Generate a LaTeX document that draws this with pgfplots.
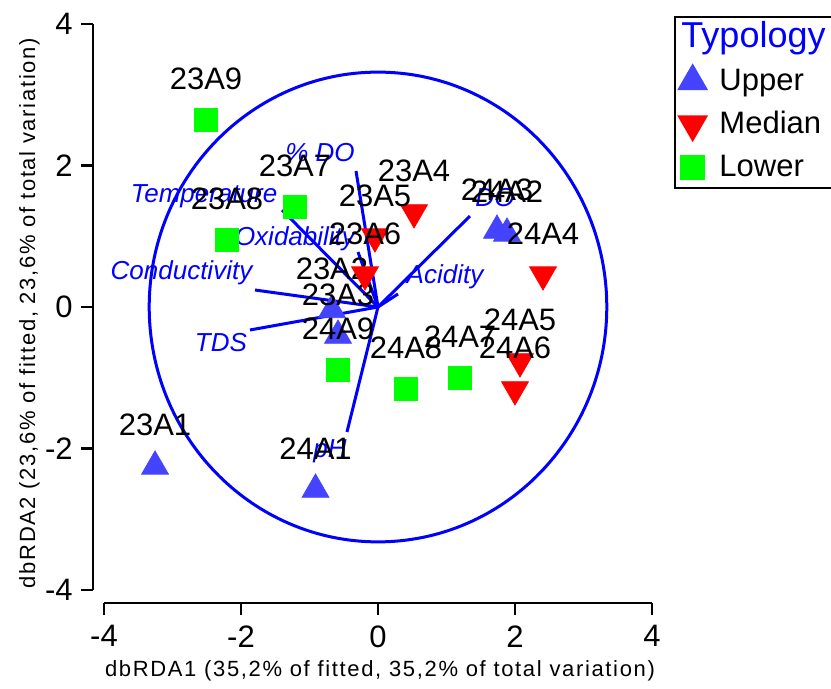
\documentclass[border=0pt]{standalone}
\usepackage{fontspec}
\setmainfont{Liberation Sans}
\usepackage{pgfplots}
\pgfplotsset{compat=1.18}
\definecolor{upc}{RGB}{68,68,255}
\definecolor{medc}{RGB}{255,0,0}
\definecolor{lowc}{RGB}{0,255,0}
\definecolor{vecc}{RGB}{0,0,255}
\newcommand{\ticksize}{\fontsize{15.5}{18}\selectfont}
\newcommand{\labsize}{\fontsize{11}{13}\selectfont\addfontfeatures{LetterSpace=7.5}}
\newcommand{\vecfont}{\fontsize{13}{15}\selectfont\itshape}
\begin{document}
\begin{tikzpicture}
\begin{axis}[
  scale only axis, width=274pt, height=283pt,
  xmin=-4, xmax=4, ymin=-4, ymax=4,
  xtick={-4,-2,0,2,4}, ytick={-4,-2,0,2,4},
  axis x line*=bottom, axis y line*=left,
  axis x line shift=6.5pt, axis y line shift=5.5pt,
  axis line style={line width=1.1pt, -},
  tick style={line width=1.1pt, black},
  major tick length=6pt, tick align=outside,
  /pgf/number format/assume math mode=true,
  ticklabel style={font=\ticksize},
  xticklabel style={inner ysep=5pt},
  yticklabel style={inner xsep=4pt},
  xlabel={dbRDA1 (35,2\% of fitted, 35,2\% of total variation)},
  ylabel={dbRDA2 (23,6\% of fitted, 23,6\% of total variation)},
  xlabel style={at={(axis description cs:0.5036,-0.1537)}, anchor=base, font=\labsize},
  ylabel style={at={(axis description cs:-0.1259,0.4890)}, anchor=base, font=\labsize},
  clip=false,
  legend style={at={(axis description cs:1.0402,1.0141)}, anchor=north west, draw=black, line width=1.2pt, font=\ticksize, inner xsep=2pt, inner ysep=2pt, row sep=4.5pt, nodes={inner ysep=0pt, inner xsep=6.7pt, text height=13pt, text depth=4pt}},
  legend image post style={xshift=-3pt},
  legend cell align=left,
  nodes near coords,
  point meta=explicit symbolic,
  every node near coord/.append style={anchor=base, yshift=15.25pt, font=\ticksize, text=black, inner sep=0pt},
]
\coordinate (LL) at (axis cs:-4,-4);
\addlegendimage{empty legend}
\addlegendentry{\hspace*{-19pt}\fontsize{18}{20}\selectfont\textcolor{vecc}{Typology}}

% reference circle and vectors
\draw[vecc, line width=1.5pt] (axis cs:0,0) ellipse [x radius=3.34, y radius=3.32];
\addplot[vecc, line width=1.5pt, forget plot, nodes near coords=] coordinates {(0,0) (-1.401,1.371)};
\addplot[vecc, line width=1.5pt, forget plot, nodes near coords=] coordinates {(0,0) (-0.321,1.922)};
\addplot[vecc, line width=1.5pt, forget plot, nodes near coords=] coordinates {(0,0) (-0.292,0.777)};
\addplot[vecc, line width=1.5pt, forget plot, nodes near coords=] coordinates {(0,0) (-1.796,0.240)};
\addplot[vecc, line width=1.5pt, forget plot, nodes near coords=] coordinates {(0,0) (-1.869,-0.325)};
\addplot[vecc, line width=1.5pt, forget plot, nodes near coords=] coordinates {(0,0) (-0.453,-1.767)};
\addplot[vecc, line width=1.5pt, forget plot, nodes near coords=] coordinates {(0,0) (0.292,0.184)};
\addplot[vecc, line width=1.5pt, forget plot, nodes near coords=] coordinates {(0,0) (1.343,1.286)};

\addplot[only marks, mark=triangle*, mark size=7.75pt, color=upc, mark options={draw=none, fill=upc}] table[meta=lab] {
x y lab
-3.255 -2.254 23A1
-0.912 -2.580 24A1
-0.672 -0.042 23A2
-0.584 -0.403 23A3
1.737 1.081 24A3
1.883 1.039 24A2
};
\addlegendentry{Upper}
\addplot[only marks, mark=triangle*, mark size=7.75pt, color=medc, mark options={draw=none, fill=medc, rotate=180}] table[meta=lab] {
x y lab
0.526 1.336 23A4
-0.044 0.996 23A5
-0.190 0.459 23A6
2.409 0.459 24A4
2.073 -0.770 24A5
2.000 -1.166 24A6
};
\addlegendentry{Median}
\addplot[only marks, mark=square*, mark size=5.75pt, color=lowc, mark options={draw=none, fill=lowc}] table[meta=lab] {
x y lab
-2.511 2.643 23A9
-1.212 1.413 23A7
-2.204 0.947 23A8
-0.584 -0.890 24A9
0.409 -1.159 24A8
1.197 -1.004 24A7
};
\addlegendentry{Lower}

\node[anchor=base, text=vecc, font=\vecfont] at (axis cs:-2.540,1.484) {Temperature};
\node[anchor=base, text=vecc, font=\vecfont] at (axis cs:-0.847,2.054) {\% DO};
\node[anchor=base, text=vecc, font=\vecfont] at (axis cs:-1.212,0.876) {Oxidability};
\node[anchor=base, text=vecc, font=\vecfont] at (axis cs:-2.869,0.382) {Conductivity};
\node[anchor=base, text=vecc, font=\vecfont] at (axis cs:-2.292,-0.636) {TDS};
\node[anchor=base, text=vecc, font=\vecfont] at (axis cs:-0.701,-2.134) {pH};
\node[anchor=base, text=vecc, font=\vecfont] at (axis cs:0.978,0.339) {Acidity};
\node[anchor=base, text=vecc, font=\vecfont] at (axis cs:1.708,1.418) {DO};
\end{axis}
\pgfresetboundingbox
\path[use as bounding box] ([xshift=-52pt, yshift=-49.5pt]LL) rectangle ([xshift=363.5pt, yshift=295pt]LL);
\end{tikzpicture}
\end{document}
